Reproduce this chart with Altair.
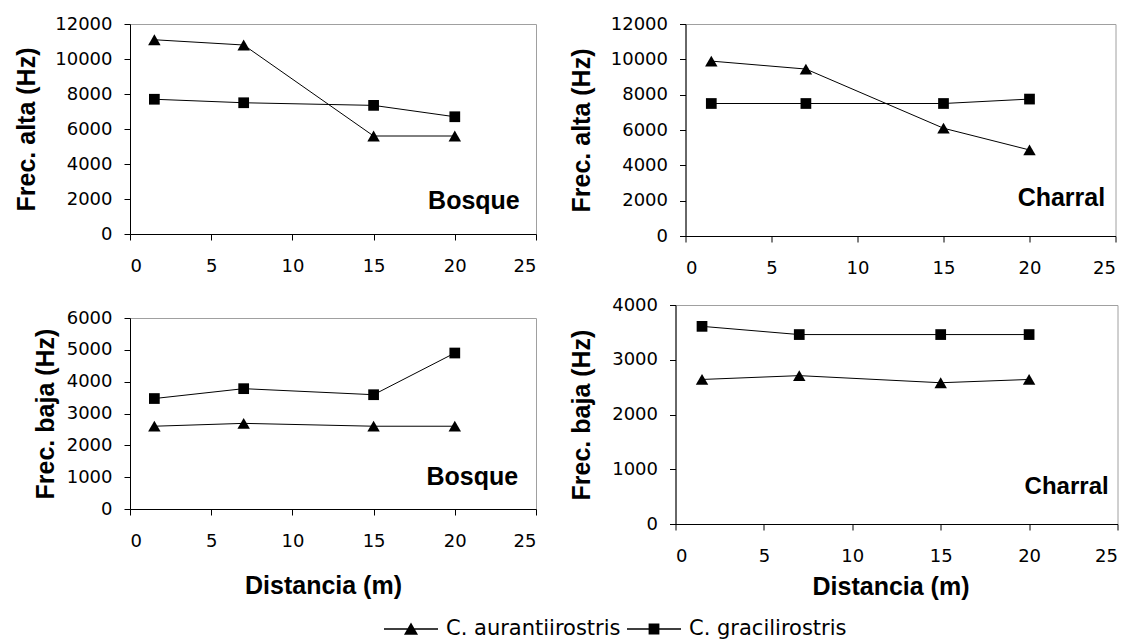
import altair as alt
import pandas as pd

# Distances (m) at which the songs were recorded
distancia = [1.5, 7, 15, 20]
especies = ["C. aurantiirostris", "C. gracilirostris"]

# High frequency (Hz), forest and scrub
alta_bosque_aur = [11100, 10800, 5600, 5600]
alta_bosque_gra = [7700, 7500, 7350, 6700]
alta_charral_aur = [9900, 9450, 6100, 4870]
alta_charral_gra = [7500, 7500, 7500, 7750]

# Low frequency (Hz), forest and scrub
baja_bosque_aur = [2600, 2690, 2600, 2600]
baja_bosque_gra = [3470, 3780, 3590, 4900]
baja_charral_aur = [2640, 2710, 2580, 2640]
baja_charral_gra = [3610, 3460, 3460, 3460]

x_ticks = [0, 5, 10, 15, 20, 25]

# Legend symbols: a short line with the series marker on it (filled paths)
TRI = "M-1,-0.03H1V0.03H-1ZM0,-0.24L0.26,0.21L-0.26,0.21Z"
SQR = "M-1,-0.03H1V0.03H-1ZM-0.2,-0.2H0.2V0.2H-0.2Z"

leyenda = alt.Legend(
    orient="none",
    legendX=254,
    legendY=578,
    direction="horizontal",
    title=None,
    padding=0,
    symbolSize=2916,
    symbolFillColor="black",
    symbolStrokeWidth=0,
    symbolOpacity=1,
    labelFont="DejaVu Sans",
    labelFontSize=21,
    labelColor="black",
    labelLimit=400,
    labelOffset=8,
    columnPadding=6,
)


def panel(aur, gra, ymax, ystep, ytitle, w, h, sitio, sx, sy, size_sitio,
          ytx, xtitle=None, xtx=0, xty=0):
    df = pd.DataFrame({
        "Distancia": distancia + distancia,
        "Frecuencia": aur + gra,
        "Especie": [especies[0]] * len(aur) + [especies[1]] * len(gra),
    })
    x_axis = dict(values=x_ticks, title=xtitle, labelPadding=17)
    if xtitle:
        x_axis.update(titleX=xtx, titleY=xty, titleAlign="center", titleBaseline="alphabetic")
    x = alt.X("Distancia:Q", scale=alt.Scale(domain=[0, 25], nice=False),
              axis=alt.Axis(**x_axis))
    y = alt.Y("Frecuencia:Q", scale=alt.Scale(domain=[0, ymax], nice=False),
              axis=alt.Axis(values=list(range(0, ymax + 1, ystep)), format="d",
                            labelOverlap=False, labelPadding=12, title=ytitle,
                            titleX=ytx, titleY=h / 2, titleAlign="center",
                            titleBaseline="alphabetic", titleAngle=270))
    base = alt.Chart(df)
    lines = base.mark_line(color="black", strokeWidth=1).encode(x=x, y=y, detail="Especie:N")
    tri = base.transform_filter(f"datum.Especie === '{especies[0]}'").mark_point(
        shape="triangle-up", filled=True, color="black", opacity=1, size=155
    ).encode(x=x, y=y)
    sqr = base.transform_filter(f"datum.Especie === '{especies[1]}'").mark_point(
        shape="square", filled=True, color="black", opacity=1, size=115
    ).encode(x=x, y=y)
    # empty layer that only carries the shape scale for the legend
    key = base.transform_filter("datum.Frecuencia < 0").mark_point(
        filled=True, color="black", opacity=1
    ).encode(
        x=x, y=y,
        shape=alt.Shape("Especie:N", scale=alt.Scale(domain=especies, range=[TRI, SQR]),
                        legend=leyenda),
    )
    etiqueta = alt.Chart(
        pd.DataFrame({"Distancia": [sx], "Frecuencia": [sy], "Sitio": [sitio]})
    ).mark_text(
        font="Liberation Sans", fontWeight="bold", fontSize=size_sitio, color="black",
        align="right", baseline="alphabetic",
    ).encode(x=x, y=y, text="Sitio:N")
    return alt.layer(lines, tri, sqr, key, etiqueta).properties(width=w, height=h)


p1 = panel(alta_bosque_aur, alta_bosque_gra, 12000, 2000, "Frec. alta (Hz)",
           406, 210, "Bosque", 24.0, 1430, 25, -96)
p2 = panel(alta_charral_aur, alta_charral_gra, 12000, 2000, "Frec. alta (Hz)",
           430, 212, "Charral", 24.4, 1700, 25, -96)
p3 = panel(baja_bosque_aur, baja_bosque_gra, 6000, 1000, "Frec. baja (Hz)",
           406, 191, "Bosque", 23.9, 760, 25, -77, "Distancia (m)", 193, 84)
p4 = panel(baja_charral_aur, baja_charral_gra, 4000, 1000, "Frec. baja (Hz)",
           442, 219, "Charral", 24.5, 540, 24, -86, "Distancia (m)", 215, 70)

# blank title: sets the left and top extent of the lower-left panel
p3 = p3.properties(title=alt.TitleParams(" ", fontSize=10, offset=3, anchor="start",
                                         frame="group", align="left", dx=-123))

chart = alt.concat(
    p1, p2, p3, p4, columns=2, spacing={"row": 17, "column": 31.5}, align="none",
).properties(
    padding={"left": 6, "top": 14, "right": 5, "bottom": 5},
).configure_view(
    stroke="#a0a0a0", strokeWidth=1,
).configure_axis(
    domainColor="black", domainWidth=1, tickColor="black", tickSize=6, tickWidth=1,
    grid=False, labelFont="DejaVu Sans", labelFontSize=18, labelColor="black",
    labelOverlap=False, titleFont="Liberation Sans", titleFontWeight="bold",
    titleFontSize=25, titleColor="black",
)

chart.save("out.html", embed_options={"renderer": "svg", "actions": False})
